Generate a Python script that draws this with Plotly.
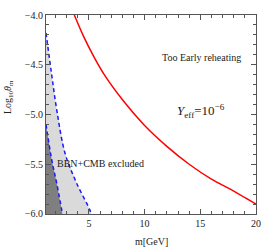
import plotly.graph_objects as go

# Data
x_range = [1.15, 20]
y_range = [-6.0, -4.0]

red_m = [3.69, 4.5, 5.5, 6.5, 8.0, 10.0, 12.0, 14.0, 16.0, 18.0, 20.0]
red_log = [-4.0, -4.21, -4.43, -4.62, -4.85, -5.11, -5.32, -5.50, -5.65, -5.77, -5.90]

outer_m = [1.15, 1.6, 2.11, 2.86, 3.90, 5.09, 5.2]
outer_log = [-4.18, -4.55, -4.95, -5.39, -5.69, -5.96, -6.0]

inner_m = [1.15, 1.67, 2.11, 2.56, 2.62]
inner_log = [-5.10, -5.46, -5.69, -5.96, -6.0]

serif = "Liberation Serif"

fig = go.Figure()

# light gray excluded region
fig.add_trace(go.Scatter(
    x=outer_m + [x_range[0]], y=outer_log + [y_range[0]],
    fill="toself", fillcolor="#dadada", mode="none", hoverinfo="skip"))
# dark gray region
fig.add_trace(go.Scatter(
    x=inner_m + [x_range[0]], y=inner_log + [y_range[0]],
    fill="toself", fillcolor="#7f7f7f", mode="none", hoverinfo="skip"))
# blue dashed boundaries
fig.add_trace(go.Scatter(x=outer_m, y=outer_log, mode="lines",
                         line=dict(color="#1a1aff", width=1.5, dash="4px,3px", shape="spline")))
fig.add_trace(go.Scatter(x=inner_m, y=inner_log, mode="lines",
                         line=dict(color="#1a1aff", width=1.5, dash="4px,3px", shape="spline")))
# red curve
fig.add_trace(go.Scatter(x=red_m, y=red_log, mode="lines",
                         line=dict(color="#ff0000", width=1.5, shape="spline", smoothing=0.6)))

axis_common = dict(
    showgrid=False, zeroline=False, mirror="allticks", showline=True,
    linecolor="#555555", linewidth=1, ticks="inside", tickcolor="#555555",
    ticklen=5, tickwidth=1, automargin=False, ticklabeloverflow="allow",
    tickfont=dict(family=serif, size=10, color="#222222"),
)

fig.update_xaxes(range=[x_range[0], x_range[1] + 0.001], tickvals=[5, 10, 15, 20],
                 minor=dict(dtick=1, ticks="inside", ticklen=3, tickcolor="#555555"),
                 **axis_common)
fig.update_yaxes(range=[y_range[0] - 0.0005, y_range[1] + 0.0005],
                 tickvals=[-4.0, -4.5, -5.0, -5.5, -6.0], tickformat=".1f",
                 minor=dict(dtick=0.1, ticks="inside", ticklen=3, tickcolor="#555555"),
                 **axis_common)

fig.add_annotation(text="Too Early reheating", xref="paper", yref="paper",
                   x=0.741, y=0.784, xanchor="center", yanchor="middle", showarrow=False,
                   font=dict(family=serif, size=10, color="#222222"))
fig.add_annotation(text="<i>Y</i><sub>eff</sub>=10<sup>−6</sup>", xref="paper", yref="paper",
                   x=0.738, y=0.518, xanchor="center", yanchor="middle", showarrow=False,
                   font=dict(family=serif, size=13, color="#222222"))
fig.add_annotation(text="BBN+CMB excluded", xref="x", yref="y",
                   x=1.95, y=-5.49, xanchor="left", yanchor="middle", showarrow=False,
                   font=dict(family=serif, size=10, color="#222222"))
fig.add_annotation(text="Log<sub>10</sub><i>θ</i><sub>m</sub>", xref="paper", yref="paper",
                   x=-0.179, y=0.59, xanchor="center", yanchor="middle", showarrow=False,
                   textangle=-90,
                   font=dict(family=serif, size=10, color="#222222"))
fig.add_annotation(text="m[GeV]", xref="paper", yref="paper",
                   x=0.5, y=-0.136, xanchor="center", yanchor="middle", showarrow=False,
                   font=dict(family=serif, size=10, color="#222222"))

fig.update_layout(
    width=262, height=247,
    margin=dict(l=46, r=6, t=15, b=33),
    paper_bgcolor="white", plot_bgcolor="white",
    showlegend=False,
)

fig.write_html("out.html", config={"displayModeBar": False},
               post_script="document.body.style.margin='0';document.body.style.overflow='hidden';")
